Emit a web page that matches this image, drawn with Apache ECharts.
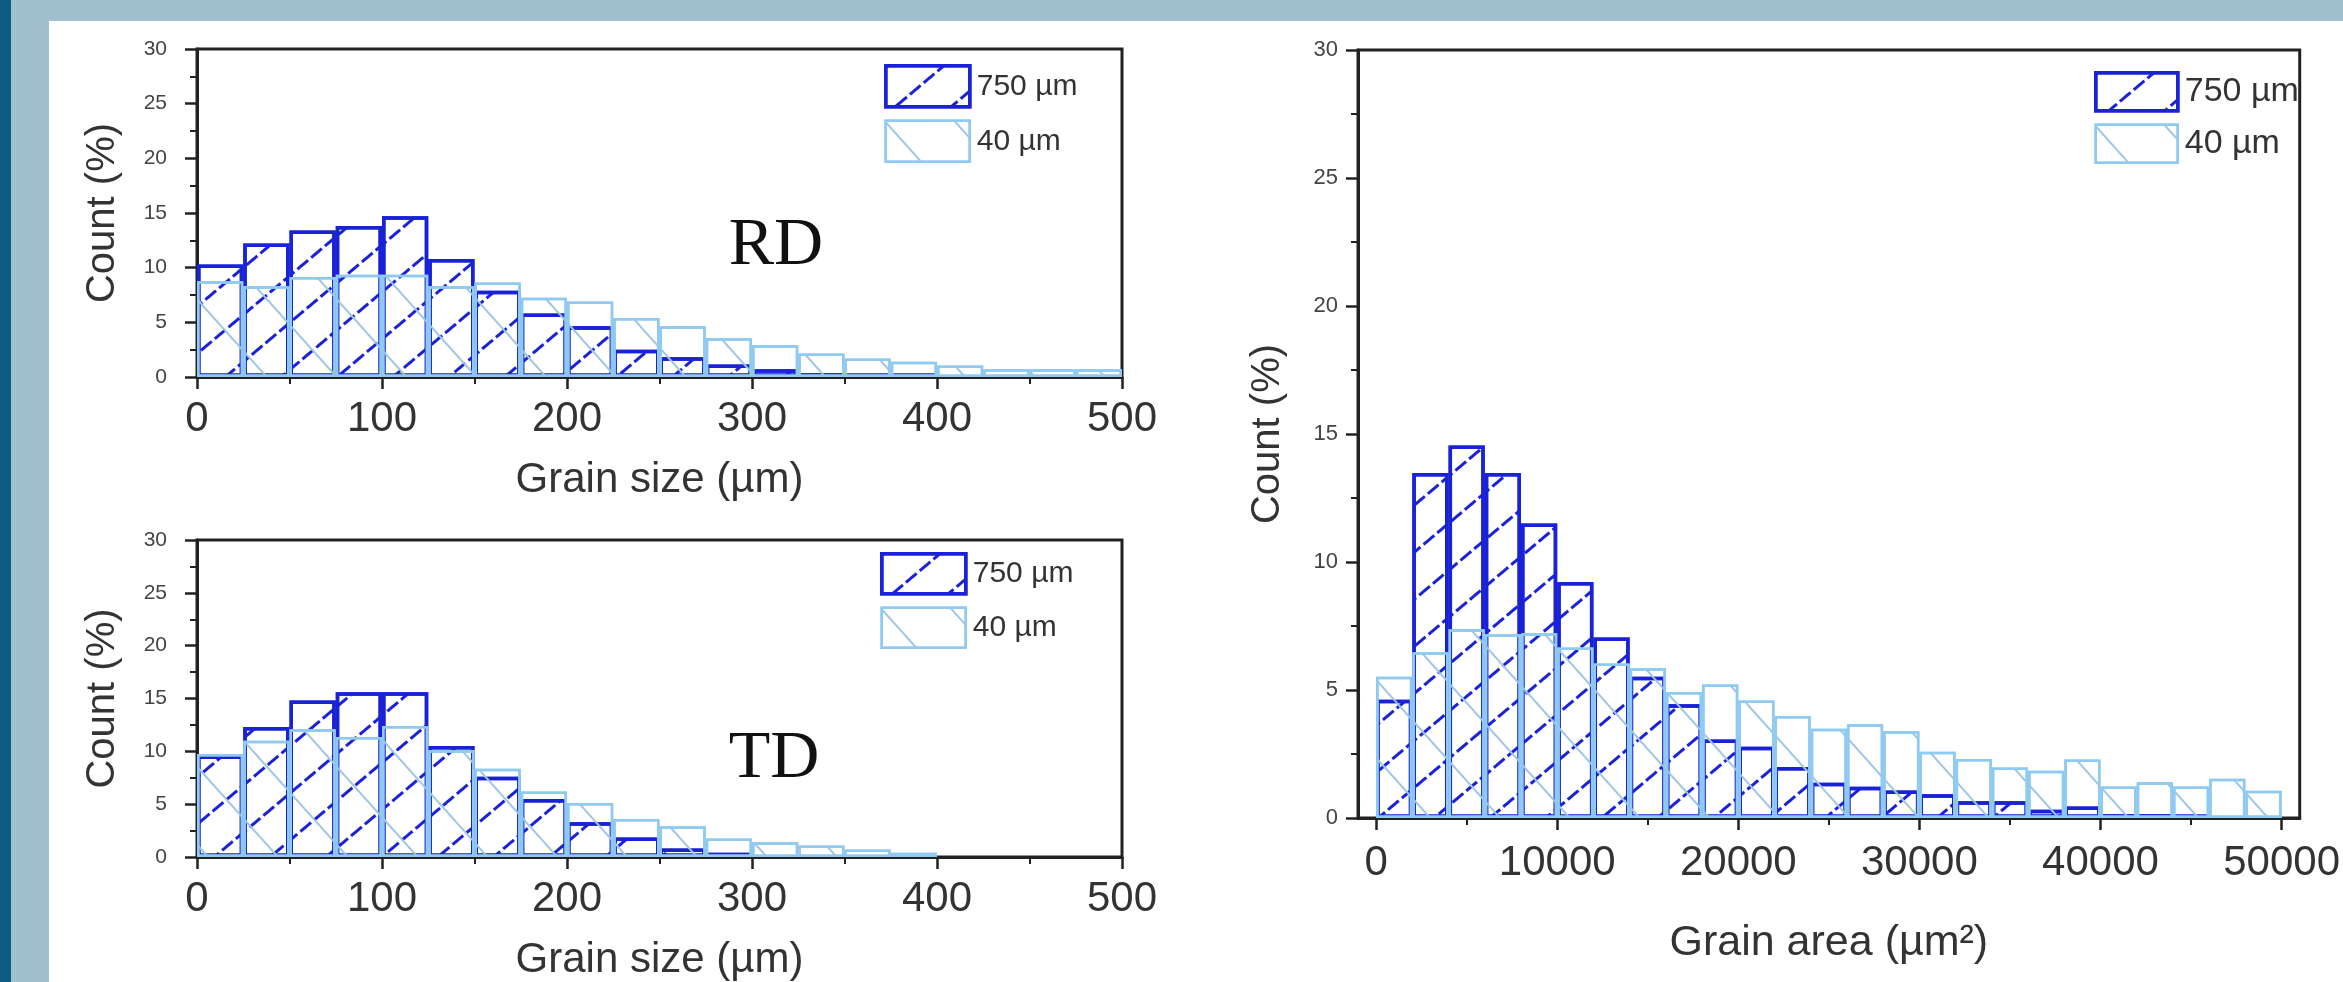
<!DOCTYPE html>
<html>
<head>
<meta charset="utf-8">
<script src="https://cdn.jsdelivr.net/npm/echarts@6/dist/echarts.min.js"></script>
<style>
html,body{margin:0;padding:0;width:2343px;height:982px;overflow:hidden;background:#a0c0d0;}
#strip{position:absolute;left:0;top:0;width:11px;height:982px;background:#0b5b82;}
#panel{position:absolute;left:49px;top:21px;right:0;bottom:0;background:#ffffff;}
#chart{position:absolute;left:0;top:0;width:2343px;height:982px;}
</style>
</head>
<body>
<div id="strip"></div>
<div id="panel"></div>
<div id="chart"></div>
<script>
// ---- data ----
const seriesNames = ['750 µm', '40 µm'];
const sizeBinStarts = [0, 25, 50, 75, 100, 125, 150, 175, 200, 225, 250, 275, 300, 325, 350, 375, 400, 425, 450, 475];
const sizeBinWidth = 25;
const rd750 = [10.3, 12.2, 13.4, 13.8, 14.7, 10.8, 7.9, 5.8, 4.65, 2.5, 1.8, 1.15, 0.7, 0.35, 0.3, 0.3, 0, 0, 0, 0];
const rd40  = [8.75, 8.3, 9.15, 9.35, 9.35, 8.3, 8.65, 7.25, 6.9, 5.4, 4.65, 3.55, 2.9, 2.15, 1.7, 1.4, 1.05, 0.7, 0.7, 0.7];
const td750 = [9.6, 12.3, 14.8, 15.6, 15.6, 10.5, 7.6, 5.5, 3.3, 1.85, 0.8, 0.4, 0, 0, 0, 0, 0, 0, 0, 0];
const td40  = [9.75, 11.0, 12.1, 11.35, 12.4, 10.1, 8.35, 6.2, 5.1, 3.6, 2.9, 1.75, 1.4, 1.1, 0.7, 0.4, 0, 0, 0, 0];
const areaBinStarts = [0, 2000, 4000, 6000, 8000, 10000, 12000, 14000, 16000, 18000, 20000, 22000, 24000,
  26000, 28000, 30000, 32000, 34000, 36000, 38000, 40000, 42000, 44000, 46000, 48000];
const areaBinWidth = 2000;
const area750 = [4.62, 13.48, 14.55, 13.48, 11.5, 9.22, 7.05, 5.52, 4.44, 3.07, 2.78, 1.99, 1.38,
  1.22, 1.07, 0.93, 0.65, 0.65, 0.32, 0.45, 0.15, 0.15, 0.13, 0, 0];
const area40 = [5.52, 6.47, 7.37, 7.18, 7.22, 6.66, 6.04, 5.85, 4.92, 5.21, 4.59, 3.98, 3.49,
  3.66, 3.39, 2.59, 2.30, 1.97, 1.85, 2.29, 1.23, 1.40, 1.23, 1.53, 1.06];
const areaLabelTicks = [0, 10000, 20000, 30000, 40000, 50000];
const areaMinorTicks = [5000, 15000, 25000, 35000, 45000];
const panelLabels = ['RD', 'TD'];

// ---- styles ----
const C_DARK = '#1a22d8';
const C_LIGHT = '#8fcaf2';
const AX = '#222222';
const TXT = '#333333';
const FONT = '"Liberation Sans", Arial, sans-serif';
const decalDark = {symbol: 'rect', symbolSize: 1, color: C_DARK, dashArrayX: [14, 4], dashArrayY: [3, 33], rotation: -0.70};
const decalLight = {symbol: 'rect', symbolSize: 1, color: '#9fc6e6', dashArrayX: [1, 0], dashArrayY: [2, 50], rotation: 0.84};
const styleDark = {color: 'transparent', borderColor: C_DARK, borderWidth: 3.5, decal: decalDark};
const styleLight = {color: 'transparent', borderColor: C_LIGHT, borderWidth: 2.5, decal: decalLight};

function barSeries(name, starts, width, vals, axisIdx, dark) {
  return {
    type: 'bar', name: name, xAxisIndex: axisIdx, yAxisIndex: axisIdx,
    barWidth: '100%', barGap: '-100%', silent: true, z: dark ? 2 : 3,
    itemStyle: dark ? styleDark : styleLight,
    data: starts.map((s, i) => [s + width / 2, vals[i] > 0 ? vals[i] : '-'])
  };
}

const axisLineStyle = {show: true, onZero: false, lineStyle: {color: AX, width: 3}};

function sizeX(gi) {
  return {
    type: 'value', gridIndex: gi, min: 0, max: 500, interval: 100,
    axisLine: axisLineStyle,
    axisTick: {show: true, inside: false, length: 12, lineStyle: {color: AX, width: 2.5}},
    minorTick: {show: true, splitNumber: 2, length: 7, lineStyle: {color: AX, width: 2}},
    splitLine: {show: false},
    axisLabel: {fontSize: 42, color: TXT, margin: 21, fontFamily: FONT},
    name: 'Grain size (µm)', nameLocation: 'middle', nameGap: 82,
    nameTextStyle: {fontSize: 42, color: TXT, fontFamily: FONT}
  };
}
function countY(gi, labelSize, gap, margin) {
  return {
    type: 'value', gridIndex: gi, min: 0, max: 30, interval: 5,
    axisLine: axisLineStyle,
    axisTick: {show: true, inside: false, length: 12, lineStyle: {color: AX, width: 2.5}},
    minorTick: {show: true, splitNumber: 2, length: 7, lineStyle: {color: AX, width: 2}},
    splitLine: {show: false},
    axisLabel: {fontSize: labelSize, color: '#444', margin: margin, fontFamily: FONT},
    name: 'Count (%)', nameLocation: 'middle', nameRotate: 90, nameGap: gap,
    nameTextStyle: {fontSize: 40, color: TXT, fontFamily: FONT}
  };
}
function legendFor(left, top, w, h, fs) {
  return {
    orient: 'vertical', left: left, top: top, itemWidth: w, itemHeight: h, itemGap: 11, padding: 0,
    selectedMode: false, icon: 'rect',
    textStyle: {fontSize: fs, color: TXT, fontFamily: FONT, padding: [0, 0, 0, 2]},
    data: [
      {name: seriesNames[0], icon: 'rect', itemStyle: styleDark},
      {name: seriesNames[1], icon: 'rect', itemStyle: styleLight}
    ]
  };
}

const option = {
  animation: false,
  backgroundColor: 'transparent',
  grid: [
    {left: 197, right: 1221, top: 49, bottom: 605, show: true, borderColor: AX, borderWidth: 3},
    {left: 197, right: 1221, top: 540, bottom: 115, show: true, borderColor: AX, borderWidth: 3},
    {left: 1358, right: 17, top: 50, bottom: 164, show: true, borderColor: AX, borderWidth: 3}
  ],
  xAxis: [
    sizeX(0),
    sizeX(1),
    {
      type: 'value', gridIndex: 2, min: -1000, max: 51000,
      axisLine: axisLineStyle,
      axisTick: {show: true, inside: false, length: 12, customValues: areaLabelTicks, lineStyle: {color: AX, width: 2.5}},
      splitLine: {show: false},
      axisLabel: {fontSize: 42, color: TXT, margin: 24, fontFamily: FONT, customValues: areaLabelTicks,
        formatter: function (v) { return String(v); }},
      name: 'Grain area (µm²)', nameLocation: 'middle', nameGap: 104,
      nameTextStyle: {fontSize: 43, color: TXT, fontFamily: FONT}
    },
    {
      type: 'value', gridIndex: 2, min: -1000, max: 51000, position: 'bottom',
      axisLine: {show: false},
      axisTick: {show: true, inside: false, length: 7, customValues: areaMinorTicks, lineStyle: {color: AX, width: 2}},
      axisLabel: {show: false, customValues: areaMinorTicks},
      splitLine: {show: false}
    }
  ],
  yAxis: [
    countY(0, 21, 74, 30),
    countY(1, 21, 74, 30),
    countY(2, 22, 70, 20)
  ],
  legend: [
    legendFor(884, 64, 84, 41, 30),
    legendFor(880, 552, 84, 40, 30),
    legendFor(2094, 71, 82, 38, 34)
  ],
  graphic: [
    {type: 'text', x: 776, y: 246, silent: true,
      style: {text: panelLabels[0], fontSize: 68, fontFamily: '"Liberation Serif", "Times New Roman", serif', fill: '#111', align: 'center', verticalAlign: 'middle'}},
    {type: 'text', x: 774, y: 759, silent: true,
      style: {text: panelLabels[1], fontSize: 68, fontFamily: '"Liberation Serif", "Times New Roman", serif', fill: '#111', align: 'center', verticalAlign: 'middle'}}
  ],
  series: [
    barSeries(seriesNames[0], sizeBinStarts, sizeBinWidth, rd750, 0, true),
    barSeries(seriesNames[1], sizeBinStarts, sizeBinWidth, rd40, 0, false),
    barSeries(seriesNames[0], sizeBinStarts, sizeBinWidth, td750, 1, true),
    barSeries(seriesNames[1], sizeBinStarts, sizeBinWidth, td40, 1, false),
    barSeries(seriesNames[0], areaBinStarts, areaBinWidth, area750, 2, true),
    barSeries(seriesNames[1], areaBinStarts, areaBinWidth, area40, 2, false)
  ]
};

const chart = echarts.init(document.getElementById('chart'), null, {renderer: 'canvas'});
chart.setOption(option);
</script>
</body>
</html>
